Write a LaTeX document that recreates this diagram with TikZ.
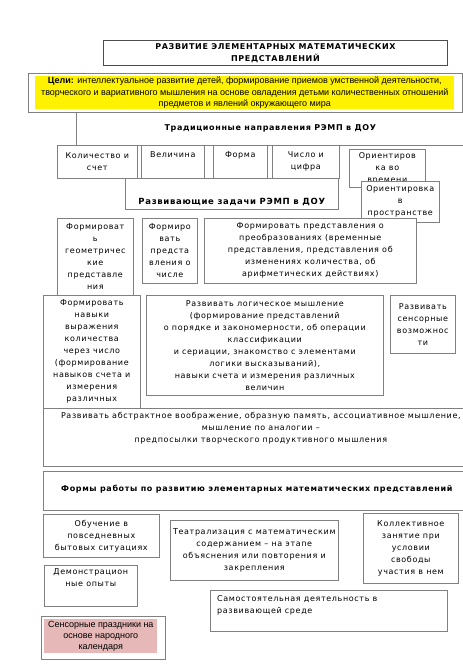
\documentclass[tikz,border=0pt]{standalone}
\usepackage{fontspec}
\setmainfont{DejaVu Sans}[LetterSpace=8]
\newfontfamily\arialfont{Liberation Sans}
\usetikzlibrary{positioning}
\definecolor{pinkfill}{RGB}{230,184,183}
\definecolor{edge}{RGB}{128,128,128}

\tikzset{
  box/.style={draw=edge, line width=0.6pt, fill=white, inner sep=0pt, anchor=north west,
    align=center, font=\fontsize{8}{12}\selectfont},
  txt/.style={inner sep=0pt, align=center, font=\fontsize{8}{12}\selectfont},
  head/.style={inner sep=0pt, font=\fontsize{8}{12}\selectfont\bfseries},
}

\begin{document}
\begin{tikzpicture}[x=1pt,y=-1pt]
    \useasboundingbox (0,0) rectangle (463,667);

    \node[box, minimum width=344, minimum height=25, draw=gray!60!black, line width=0.9pt,
      font=\fontsize{8}{12}\selectfont\bfseries] (title) at (103,40)
      {РАЗВИТИЕ ЭЛЕМЕНТАРНЫХ МАТЕМАТИЧЕСКИХ\\ПРЕДСТАВЛЕНИЙ};

    \node[box, minimum width=434, minimum height=39] (celi) at (28,73) {};
    \node[box, draw=none, fill=yellow, minimum width=419, minimum height=33,
      font=\arialfont\fontsize{9}{11.5}\selectfont] (celitxt) at (35,76)
      {\textbf{Цели:} интеллектуальное развитие детей, формирование приемов умственной деятельности,\\
       творческого и вариативного мышления на основе овладения детьми количественных отношений\\
       предметов и явлений окружающего мира};

    \node[box, minimum width=388, minimum height=33, font=\fontsize{8}{12}\selectfont\bfseries] (trad) at (76,112)
      {Традиционные направления РЭМП в ДОУ};

    \node[box, minimum width=80, minimum height=33] (kol) at (57,145) {Количество и\\счет};
    \node[box, minimum width=63, minimum height=33] (vel) at (141,145) {};
    \node[txt] at ([yshift=-10pt]vel.north) {Величина};
    \node[box, minimum width=54, minimum height=33] (forma) at (213,145) {};
    \node[txt] at ([yshift=-10pt]forma.north) {Форма};
    \node[box, minimum width=67, minimum height=33] (chislo) at (272,145) {Число и\\цифра};
    \node[box, minimum width=76, minimum height=38] (vremya) at (349,149) {Ориентиров\\ка во\\времени};

    \node[box, minimum width=213, minimum height=31] (razv) at (125,178) {};
    \node[head, font=\fontsize{8.5}{12}\selectfont\bfseries] at ([yshift=-24pt]razv.north) {Развивающие задачи РЭМП в ДОУ};
    \node[box, minimum width=78, minimum height=41] (prostr) at (361,181) {Ориентировка\\в\\пространстве};

    \node[box, minimum width=76, minimum height=77] (geom) at (57,218)
      {Формироват\\ь\\геометричес\\кие\\представле\\ния};
    \node[box, minimum width=55, minimum height=65] (chisl) at (142,218)
      {Формиро\\вать\\предста\\вления о\\числе};
    \node[box, minimum width=212, minimum height=65] (preobr) at (204,218)
      {Формировать представления о\\преобразованиях (временные\\представления, представления об\\изменениях количества, об\\арифметических действиях)};

    \node[box, minimum width=97, minimum height=113] (navyki) at (43,295)
      {Формировать\\навыки\\выражения\\количества\\через число\\(формирование\\навыков счета и\\измерения\\различных};
    \node[box, minimum width=237, minimum height=100] (logic) at (146,295)
      {Развивать логическое мышление\\(формирование представлений\\о порядке и закономерности, об операции\\классификации\\и сериации, знакомство с элементами\\логики высказываний),\\навыки счета и измерения различных\\величин};
    \node[box, minimum width=65, minimum height=58] (sensor) at (390,295)
      {Развивать\\сенсорные\\возможнос\\ти};

    \node[box, minimum width=425, minimum height=58] (abstr) at (43,408) {};
    \node[txt, anchor=north] at ([xshift=5pt,yshift=-4pt]abstr.north)
      {Развивать абстрактное воображение, образную память, ассоциативное мышление,\\мышление по аналогии –\\предпосылки творческого продуктивного мышления};

    \node[box, minimum width=425, minimum height=39] (formy) at (43,471) {};
    \node[head] at ([xshift=1pt,yshift=2pt]formy.center)
      {Формы работы по развитию элементарных математических представлений};

    \node[box, minimum width=116, minimum height=43] (obuch) at (43,514)
      {Обучение в\\повседневных\\бытовых ситуациях};
    \node[box, minimum width=93, minimum height=41] (demo) at (44,565) {Демонстрацион\\ные опыты\\[4pt]};
    \node[box, minimum width=124, minimum height=43] (prazd) at (41,616) {};
    \node[box, draw=none, fill=pinkfill, minimum width=113, minimum height=34,
      font=\arialfont\fontsize{9}{11}\selectfont] (prazdtxt) at (44,619)
      {Сенсорные праздники на\\основе народного\\календаря};

    \node[box, minimum width=168, minimum height=60] (teatr) at (170,520)
      {Театрализация с математическим\\содержанием – на этапе\\объяснения или повторения и\\закрепления};
    \node[box, minimum width=95, minimum height=70] (kollekt) at (363,513)
      {Коллективное\\занятие при\\условии\\свободы\\участия в нем};
    \node[box, minimum width=237, minimum height=41] (samost) at (210,590) {};
    \node[txt, anchor=north west, align=left] at ([xshift=7pt,yshift=-5pt]samost.north west)
      {Самостоятельная деятельность в\\развивающей среде};
\end{tikzpicture}
\end{document}
